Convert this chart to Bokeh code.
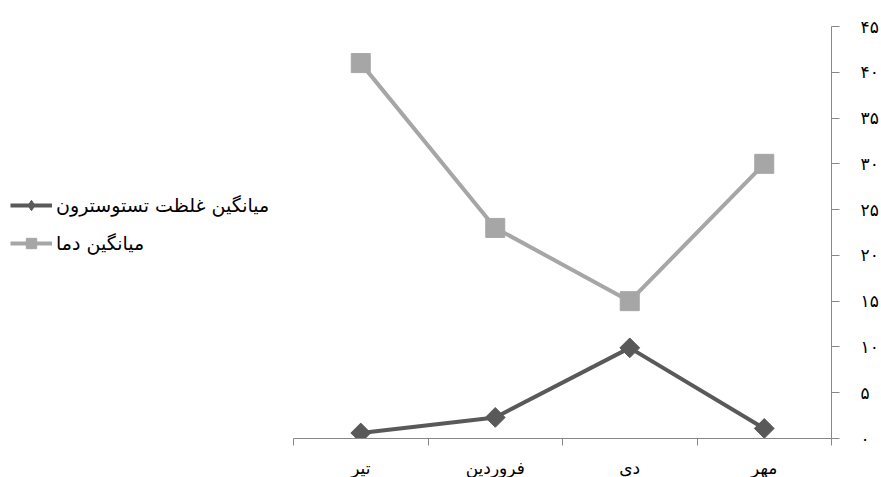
import math
from bokeh.plotting import figure
from bokeh.models import (Range1d, FixedTicker, Legend, LegendItem, ColumnDataSource)
from bokeh.embed import file_html
from bokeh.resources import INLINE

# ---- data ----
months = ["تیر", "فروردین", "دی", "مهر"]
testosterone = [0.6, 2.3, 9.9, 1.1]
temperature = [41, 23, 15, 30]
series_names = ["میانگین غلظت تستوسترون", "میانگین دما"]
y_tick_values = [0, 5, 10, 15, 20, 25, 30, 35, 40, 45]
y_tick_labels = ["۰", "۵", "۱۰", "۱۵", "۲۰", "۲۵", "۳۰", "۳۵", "۴۰", "۴۵"]

FONT = "DejaVu Sans"
AXIS_COLOR = "#878787"
DARK = "#595959"
LIGHT = "#A6A6A6"

# layout: the frame spans from the left edge so that the legend (inside it) is not clipped;
# the category axis occupies only the right part (AXIS_LEFT..frame right)
FRAME_W = 831
AXIS_LEFT = 293
n = len(months)
x_start = -0.5 - AXIS_LEFT / (FRAME_W - AXIS_LEFT) * n

xs = list(range(n))
src = ColumnDataSource(dict(x=xs, t=testosterone, d=temperature))

p = figure(frame_width=FRAME_W, frame_height=412, output_backend="svg", toolbar_location=None,
           x_range=Range1d(x_start, n - 0.5), y_range=Range1d(0, 45),
           y_axis_location="right",
           min_border_left=0, min_border_right=50, min_border_top=26, min_border_bottom=39)
p.outline_line_color = None
p.xgrid.visible = False
p.ygrid.visible = False
p.background_fill_color = "white"
p.border_fill_color = "white"

# x axis
xa = p.xaxis[0]
xa.bounds = (-0.5, n - 0.5)
xa.ticker = FixedTicker(ticks=xs, minor_ticks=[i - 0.5 for i in range(n + 1)])
xa.major_label_overrides = {i: m for i, m in zip(xs, months)}
xa.major_tick_line_color = None
xa.major_tick_out = 0
xa.major_tick_in = 0
xa.minor_tick_out = 7
xa.minor_tick_in = 0
xa.minor_tick_line_color = AXIS_COLOR
xa.axis_line_color = AXIS_COLOR
xa.major_label_text_font = FONT
xa.major_label_text_font_size = "17px"
xa.major_label_text_color = "black"
xa.major_label_standoff = 12

# y axis
ya = p.yaxis[0]
ya.ticker = FixedTicker(ticks=y_tick_values)
ya.major_label_overrides = {v: l for v, l in zip(y_tick_values, y_tick_labels)}
ya.major_tick_out = 8
ya.major_tick_in = 0
ya.major_tick_line_color = AXIS_COLOR
ya.minor_tick_line_color = None
ya.axis_line_color = AXIS_COLOR
ya.major_label_text_font = FONT
ya.major_label_text_font_size = "17px"
ya.major_label_text_color = "black"
ya.major_label_standoff = 21

# series
l2 = p.line("x", "d", source=src, line_color=LIGHT, line_width=4)
s2 = p.scatter("x", "d", source=src, marker="square", size=19,
               fill_color=LIGHT, line_color=LIGHT)
l1 = p.line("x", "t", source=src, line_color=DARK, line_width=4)
# diamond marker used as the legend key (it lies fully under the rotated squares below)
s1_key = p.scatter("x", "t", source=src, marker="diamond", size=14,
                   fill_color=DARK, line_color=DARK)
s1 = p.scatter("x", "t", source=src, marker="square", size=14, angle=math.pi / 4,
               fill_color=DARK, line_color=DARK)

legend = Legend(items=[LegendItem(label=series_names[0], renderers=[l1, s1_key]),
                       LegendItem(label=series_names[1], renderers=[l2, s2])],
                location=(10, 182), orientation="vertical",
                glyph_width=42, glyph_height=26, label_height=26, spacing=12,
                label_standoff=4, padding=0, margin=0,
                border_line_color=None, background_fill_alpha=0,
                label_text_font=FONT, label_text_font_size="19px",
                label_text_color="black")
p.add_layout(legend, "center")

open("out.html", "w").write(file_html(p, INLINE))
